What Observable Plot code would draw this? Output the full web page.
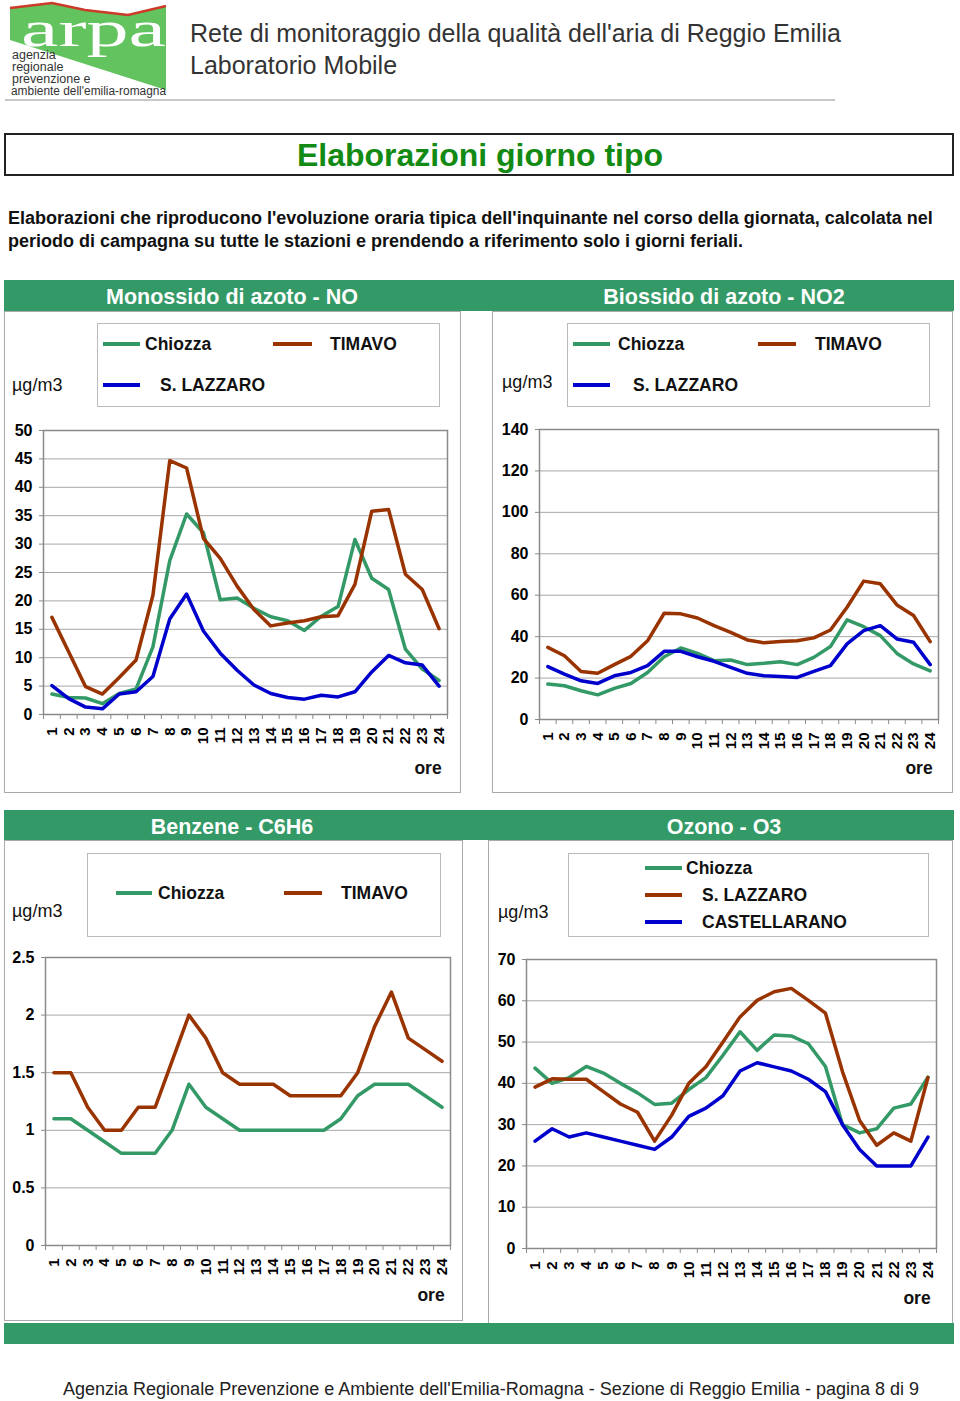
<!DOCTYPE html>
<html><head><meta charset="utf-8">
<script src="https://cdn.jsdelivr.net/npm/d3@7"></script>
<script src="https://cdn.jsdelivr.net/npm/@observablehq/plot@0.6"></script>
<style>
html,body{margin:0;padding:0;background:#fff;}
#page{position:relative;width:960px;height:1401px;overflow:hidden;font-family:"Liberation Sans",Arial,Helvetica,sans-serif;}
#page svg{position:absolute;}
</style></head><body><div id="page"></div>
<script>
// ---- data ----
const hours = [1,2,3,4,5,6,7,8,9,10,11,12,13,14,15,16,17,18,19,20,21,22,23,24];

const noSeries = ["Chiozza", "TIMAVO", "S. LAZZARO"];
const noChiozza  = [3.6,3.0,2.9,1.9,3.7,4.5,11.9,27.1,35.3,32.0,20.2,20.5,18.7,17.2,16.5,14.8,17.3,19.0,30.8,24.0,22.0,11.5,8.0,6.0];
const noTimavo   = [17.1,11.0,4.9,3.6,6.5,9.6,21.0,44.7,43.4,31.0,27.5,22.6,18.5,15.6,16.1,16.5,17.2,17.4,22.9,35.8,36.1,24.7,22.0,15.1];
const noSLazzaro = [5.1,2.8,1.3,1.0,3.6,4.0,6.7,16.8,21.2,14.7,10.8,7.8,5.2,3.7,3.0,2.7,3.4,3.1,4.0,7.5,10.4,9.1,8.7,5.0];
const noTicks = [0,5,10,15,20,25,30,35,40,45,50];

const no2Series = ["Chiozza", "TIMAVO", "S. LAZZARO"];
const no2Chiozza  = [17.1,16.3,13.9,11.9,15.0,17.4,22.7,30.3,34.5,31.9,28.4,28.7,26.5,27.1,27.9,26.5,30.0,35.2,48.1,44.8,40.5,31.9,26.8,23.5];
const no2Timavo   = [34.8,30.8,23.2,22.3,26.5,30.5,38.0,51.3,51.0,49.0,45.3,42.1,38.4,37.0,37.6,38.0,39.4,43.2,54.2,66.8,65.5,55.3,50.2,37.6];
const no2SLazzaro = [25.5,21.9,18.7,17.4,21.1,22.7,26.0,32.9,32.9,30.3,28.1,25.2,22.3,21.1,20.8,20.3,23.2,26.0,36.5,42.9,45.3,38.9,37.3,26.5];
const no2Ticks = [0,20,40,60,80,100,120,140];

const c6h6Series = ["Chiozza", "TIMAVO"];
const c6h6Chiozza = [1.1,1.1,1.0,0.9,0.8,0.8,0.8,1.0,1.4,1.2,1.1,1.0,1.0,1.0,1.0,1.0,1.0,1.1,1.3,1.4,1.4,1.4,1.3,1.2];
const c6h6Timavo  = [1.5,1.5,1.2,1.0,1.0,1.2,1.2,1.6,2.0,1.8,1.5,1.4,1.4,1.4,1.3,1.3,1.3,1.3,1.5,1.9,2.2,1.8,1.7,1.6];
const c6h6Ticks = [0,0.5,1,1.5,2,2.5];

const o3Series = ["Chiozza", "S. LAZZARO", "CASTELLARANO"];
const o3Chiozza      = [43.7,40.0,41.4,44.1,42.5,40.0,37.7,34.9,35.2,38.5,41.4,46.8,52.5,48.0,51.7,51.5,49.6,44.1,30.0,28.0,29.0,34.0,35.0,41.5];
const o3SLazzaro     = [39.1,41.1,41.0,41.0,38.0,35.0,33.0,26.0,32.3,40.0,44.0,50.0,56.1,60.1,62.2,63.0,60.1,57.0,42.8,31.0,25.0,28.0,26.0,41.4];
const o3Castellarano = [26,29,27,28,27,26,25,24,27,32,34,37,43,45,44,43,41,38,30,24,20,20,20,27];
const o3Ticks = [0,10,20,30,40,50,60,70];

const colGreen = "#339966", colBrown = "#993300", colBlue = "#0000cc";

// ---- page decoration ----
const page = document.getElementById("page");
const legLine = (x1, x2, y, c) => `<line x1="${x1}" x2="${x2}" y1="${y}" y2="${y}" stroke="${c}" stroke-width="4"/>`;
const T = (x, y, s, opt = "") => `<text x="${x}" y="${y}" ${opt}>${s}</text>`;
const B = 'font-weight="bold" font-size="17.5"';
const deco = `
<svg width="960" height="1401" style="left:0;top:0" font-family="Liberation Sans, Arial, sans-serif">
  <polygon points="10,8 52,3 85,10 128,15 166,6 166,90 10,40" fill="#63c35f"/>
  <polyline points="10,8 52,3 85,10 128,15 166,6" fill="none" stroke="#cc3a2a" stroke-width="2.5"/>
  <text x="21" y="46" font-family="Liberation Serif, Times New Roman, serif" font-size="50" fill="#fff" textLength="145" lengthAdjust="spacingAndGlyphs">arpa</text>
  <g font-size="12.5" fill="#333">
    ${T(12, 59, "agenzia")}${T(12, 71, "regionale")}${T(12, 83, "prevenzione e")}
    <text x="11" y="95" textLength="155" lengthAdjust="spacingAndGlyphs">ambiente dell'emilia-romagna</text>
  </g>
  <g font-size="25" fill="#333">
    ${T(190, 42, "Rete di monitoraggio della qualità dell'aria di Reggio Emilia")}
    ${T(190, 74, "Laboratorio Mobile")}
  </g>
  <rect x="5" y="99" width="830" height="2" fill="#c8c8c8"/>
  <rect x="5" y="134" width="948" height="41" fill="none" stroke="#222" stroke-width="2"/>
  <text x="480" y="166" text-anchor="middle" font-size="32" font-weight="bold" fill="#138a13">Elaborazioni giorno tipo</text>
  <g font-weight="bold" font-size="18" fill="#111">
    ${T(8, 224, "Elaborazioni che riproducono l'evoluzione oraria tipica dell'inquinante nel corso della giornata, calcolata nel")}
    ${T(8, 247, "periodo di campagna su tutte le stazioni e prendendo a riferimento solo i giorni feriali.")}
  </g>

  <rect x="4" y="280" width="950" height="31" fill="${colGreen}"/>
  <g font-size="21.5" font-weight="bold" fill="#fff" text-anchor="middle">
    ${T(232, 304, "Monossido di azoto - NO")}${T(724, 304, "Biossido di azoto - NO2")}
  </g>
  <rect x="4.5" y="311.5" width="456" height="481" fill="#fff" stroke="#aaa"/>
  <rect x="492.5" y="311.5" width="460" height="481" fill="#fff" stroke="#aaa"/>
  <rect x="97.5" y="323.5" width="342" height="83" fill="#fff" stroke="#bbb"/>
  <rect x="567.5" y="323.5" width="362" height="83" fill="#fff" stroke="#bbb"/>
  ${legLine(103,140,344,colGreen)}${legLine(273,312,344,colBrown)}${legLine(103,140,385,colBlue)}
  ${legLine(573,610,344,colGreen)}${legLine(758,796,344,colBrown)}${legLine(573,610,385,colBlue)}
  <g ${B} fill="#111">
    ${T(145, 350, noSeries[0])}${T(330, 350, noSeries[1])}${T(160, 391, noSeries[2])}
    ${T(618, 350, no2Series[0])}${T(815, 350, no2Series[1])}${T(633, 391, no2Series[2])}
    <text x="428" y="774" text-anchor="middle">ore</text>
    <text x="919" y="774" text-anchor="middle">ore</text>
  </g>
  <g font-size="18" fill="#111">${T(12, 391, "µg/m3")}${T(502, 388, "µg/m3")}</g>

  <rect x="4" y="810" width="950" height="30" fill="${colGreen}"/>
  <g font-size="21.5" font-weight="bold" fill="#fff" text-anchor="middle">
    ${T(232, 834, "Benzene - C6H6")}${T(724, 834, "Ozono - O3")}
  </g>
  <rect x="4.5" y="840.5" width="458" height="480" fill="#fff" stroke="#aaa"/>
  <rect x="488.5" y="840.5" width="464" height="483" fill="#fff" stroke="#aaa"/>
  <rect x="87.5" y="853.5" width="353" height="83" fill="#fff" stroke="#bbb"/>
  <rect x="568.5" y="853.5" width="360" height="83" fill="#fff" stroke="#bbb"/>
  ${legLine(116,152,893,colGreen)}${legLine(284,322,893,colBrown)}
  ${legLine(645,682,868,colGreen)}${legLine(645,682,895,colBrown)}${legLine(645,682,922,colBlue)}
  <g ${B} fill="#111">
    ${T(158, 899, c6h6Series[0])}${T(341, 899, c6h6Series[1])}
    ${T(686, 874, o3Series[0])}${T(702, 901, o3Series[1])}${T(702, 928, o3Series[2])}
    <text x="431" y="1301" text-anchor="middle">ore</text>
    <text x="917" y="1304" text-anchor="middle">ore</text>
  </g>
  <g font-size="18" fill="#111">${T(12, 917, "µg/m3")}${T(498, 918, "µg/m3")}</g>

  <rect x="4" y="1323" width="950" height="21" fill="${colGreen}"/>
  <text x="491" y="1395" text-anchor="middle" font-size="18" fill="#222">Agenzia Regionale Prevenzione e Ambiente dell'Emilia-Romagna - Sezione di Reggio Emilia - pagina 8 di 9</text>
</svg>`;
page.insertAdjacentHTML("beforeend", deco);

// ---- charts ----
function chart({series, values, colors, yDomain, yTicks, left, top, width, height, mL, mR, mT, mB}) {
  const rows = [];
  series.forEach((s, i) => values[i].forEach((v, j) => rows.push({hour: hours[j], value: v, series: s})));
  const bounds = hours.map(h => h - 0.5).concat([hours[hours.length - 1] + 0.5]);
  const svg = Plot.plot({
    width, height, marginLeft: mL, marginRight: mR, marginTop: mT, marginBottom: mB,
    style: {background: "transparent", fontFamily: "Liberation Sans, Arial, sans-serif", fontSize: "15px", fontWeight: "bold", color: "#000", overflow: "visible"},
    x: {type: "linear", domain: [0.5, 24.5]},
    y: {domain: yDomain},
    color: {domain: series, range: colors},
    marks: [
      Plot.gridY(yTicks, {stroke: "#a8a8a8", strokeOpacity: 1, strokeWidth: 1}),
      Plot.frame({stroke: "#8a8a8a", strokeWidth: 1.5}),
      Plot.axisY(yTicks, {tickSize: 4, tickPadding: 7, stroke: "#8a8a8a", fontSize: 16, tickFormat: d => String(d), label: null}),
      Plot.axisX(bounds, {tickSize: 5, stroke: "#8a8a8a", tickFormat: () => "", label: null}),
      Plot.axisX(hours, {tickSize: 0, tickRotate: -90, tickPadding: 13, tickFormat: d => String(d), label: null}),
      Plot.line(rows, {x: "hour", y: "value", z: "series", stroke: "series", strokeWidth: 3.5})
    ]
  });
  svg.style.position = "absolute";
  svg.style.left = left + "px";
  svg.style.top = top + "px";
  page.appendChild(svg);
}

chart({series: noSeries, values: [noChiozza, noTimavo, noSLazzaro], colors: [colGreen, colBrown, colBlue],
  yDomain: [0, 50], yTicks: noTicks, left: 4, top: 415, width: 450, height: 345, mL: 39, mR: 7, mT: 15, mB: 46});
chart({series: no2Series, values: [no2Chiozza, no2Timavo, no2SLazzaro], colors: [colGreen, colBrown, colBlue],
  yDomain: [0, 140], yTicks: no2Ticks, left: 494, top: 414, width: 450, height: 350, mL: 45, mR: 6, mT: 15, mB: 45});
chart({series: c6h6Series, values: [c6h6Chiozza, c6h6Timavo], colors: [colGreen, colBrown],
  yDomain: [0, 2.5], yTicks: c6h6Ticks, left: 4, top: 942, width: 452, height: 350, mL: 41, mR: 6, mT: 15, mB: 47});
chart({series: o3Series, values: [o3Chiozza, o3SLazzaro, o3Castellarano], colors: [colGreen, colBrown, colBlue],
  yDomain: [0, 70], yTicks: o3Ticks, left: 490, top: 944, width: 450, height: 350, mL: 36, mR: 4, mT: 15, mB: 46});
</script>
</body></html>
